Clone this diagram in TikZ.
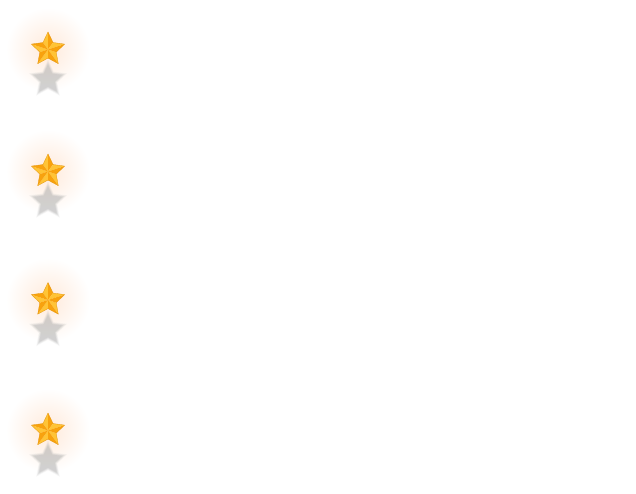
\documentclass[tikz,border=0pt]{standalone}
\definecolor{facetlight}{HTML}{FFC436}
\definecolor{facetdark}{HTML}{F8A20E}
\definecolor{glowc}{HTML}{FFEADB}
\definecolor{shadowc}{HTML}{A8A8A8}
\tikzset{
  facetstar/.pic={
    \shade[inner color=glowc, outer color=white] (0,0) circle (42pt);
    \foreach \s/\o in {1.22/0.07,1.14/0.10,1.06/0.13,0.98/0.16,0.90/0.18}{
      \fill[shadowc, opacity=\o, shift={(0,-30pt)}, scale=\s]
        (90:16.5pt) -- (126:8pt) -- (162:16.5pt) -- (198:8pt) -- (234:16.5pt)
        -- (270:8pt) -- (306:16.5pt) -- (342:8pt) -- (18:16.5pt) -- (54:8pt) -- cycle;
    }
    \foreach \i in {0,...,4}{
      \pgfmathsetmacro{\a}{90+72*\i}
      \fill[facetlight] (0,0) -- (\a:17.5pt) -- ({\a+36}:8.6pt) -- cycle;
      \fill[facetdark] (0,0) -- (\a:17.5pt) -- ({\a-36}:8.6pt) -- cycle;
    }
    \draw[facetdark!92!black, line width=0.3pt, line join=round]
      (90:17.5pt) -- (126:8.6pt) -- (162:17.5pt) -- (198:8.6pt) -- (234:17.5pt)
      -- (270:8.6pt) -- (306:17.5pt) -- (342:8.6pt) -- (18:17.5pt) -- (54:8.6pt) -- cycle;
  }
}
\begin{document}
\begin{tikzpicture}[x=1pt,y=1pt]
  \useasboundingbox[fill=white] (0,0) rectangle (636,493);
  \pic (s1) at (48,443.5) {facetstar};
  \pic (s2) at (48,321.5) {facetstar};
  \pic (s3) at (48,193) {facetstar};
  \pic (s4) at (48,62.5) {facetstar};
\end{tikzpicture}
\end{document}
